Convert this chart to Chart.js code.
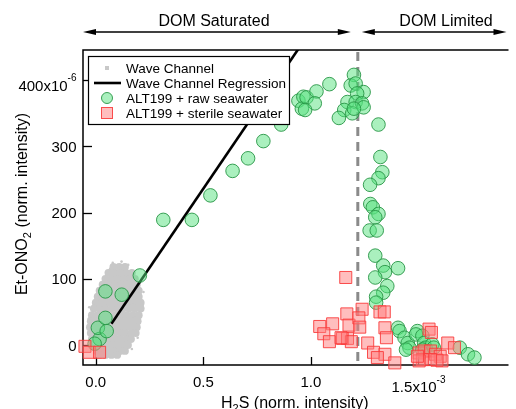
<!DOCTYPE html>
<html><head><meta charset="utf-8">
<script src="https://cdn.jsdelivr.net/npm/chart.js@4.4.1/dist/chart.umd.min.js"></script>
<style>html,body{margin:0;padding:0;background:#fff;}canvas{display:block;}</style>
</head><body>
<canvas id="c" width="516" height="409"></canvas>
<script>
// ---- data (x in units of 1e-3, y in units of 1e-6) ----
const xTickValues = [0, 0.5, 1.0, 1.5];
const xTickLabels = ['0.0', '0.5', '1.0', '1.5x10'];
const xTickExponents = ['', '', '', '-3'];
const yTickValues = [0, 100, 200, 300, 400];
const yTickLabels = ['0', '100', '200', '300', '400x10'];
const yTickExponents = ['', '', '', '', '-6'];
const seriesNames = ['Wave Channel', 'Wave Channel Regression', 'ALT199 + raw seawater', 'ALT199 + sterile seawater'];
const regionNames = ['DOM Saturated', 'DOM Limited'];
const boundaryX = 1.218;

const waveChannelCore = [
 [0.082,118],[0.109,118],[0.136,118],
 [0.059,109],[0.086,109],[0.114,109],[0.141,109],[0.168,109],
 [0.045,100],[0.073,100],[0.1,100],[0.127,100],[0.155,100],[0.182,100],
 [0.032,91],[0.059,91],[0.086,91],[0.114,91],[0.141,91],[0.168,91],[0.191,91],
 [0.018,82],[0.045,82],[0.073,82],[0.1,82],[0.127,82],[0.155,82],[0.182,82],[0.2,82],
 [0.009,73],[0.036,73],[0.064,73],[0.091,73],[0.118,73],[0.145,73],[0.173,73],[0.2,73],
 [0,64],[0.027,64],[0.055,64],[0.082,64],[0.109,64],[0.136,64],[0.164,64],[0.191,64],[0.209,64],
 [-0.009,55],[0.018,55],[0.045,55],[0.073,55],[0.1,55],[0.127,55],[0.155,55],[0.182,55],[0.209,55],
 [-0.018,45],[0.009,45],[0.036,45],[0.064,45],[0.091,45],[0.118,45],[0.145,45],[0.173,45],[0.2,45],
 [-0.023,36],[0.005,36],[0.032,36],[0.059,36],[0.086,36],[0.114,36],[0.141,36],[0.168,36],[0.195,36],
 [-0.027,27],[0,27],[0.027,27],[0.055,27],[0.082,27],[0.109,27],[0.136,27],[0.164,27],[0.191,27],
 [-0.023,18],[0.005,18],[0.032,18],[0.059,18],[0.086,18],[0.114,18],[0.141,18],[0.168,18],[0.186,18],
 [-0.018,9],[0.009,9],[0.036,9],[0.064,9],[0.091,9],[0.118,9],[0.145,9],[0.164,9],
 [-0.014,0],[0.014,0],[0.041,0],[0.068,0],[0.095,0],[0.123,0],[0.15,0],
 [0.005,-9],[0.032,-9],[0.059,-9],[0.086,-9],[0.114,-9],[0.136,-9],
 [0.018,-15],[0.045,-15],[0.073,-15],[0.1,-15]
];
const waveChannelFringe = [
 [0.079,124],[0.151,121],[0.067,115],[-0.03,57],[-0.034,24],[0.218,59],
 [0.195,11],[0.168,-6],[0.012,-19],[0.12,126],[0.222,80],[-0.032,40]
];
const regressionLine = [[0.073,32],[1.0,475]];
const rawSeawater = [
 [0.018,9],[0.010,26],[0.051,21],[0.045,41],[0.045,81],[0.121,76],[-0.005,2],[0.205,105],
 [0.314,189],[0.447,189],[0.533,226],[0.636,263],[0.708,282],[0.779,308],[0.862,333],
 [0.942,369],[0.965,375],[0.958,357],[0.980,374],[1.026,383],[1.018,365],[0.973,355],
 [1.086,394],[1.2,408],[1.185,392],[1.208,395],[1.245,382],[1.215,380],[1.170,367],
 [1.208,367],[1.238,365],[1.245,359],[1.155,355],[1.192,350],[1.2,357],[1.13,343],
 [1.314,333],[1.323,284],[1.332,261],[1.314,252],[1.275,242],[1.276,213],[1.288,208],
 [1.314,198],[1.299,193],[1.273,173],[1.306,173],[1.299,135],[1.336,120],[1.405,116],
 [1.344,110],[1.299,102],[1.355,89],[1.336,79],[1.303,73],[1.303,64],
 [1.405,26],[1.412,21],[1.435,11],[1.45,3],[1.458,-4],[1.442,-7],[1.495,21],[1.488,16],
 [1.518,14],[1.526,3],[1.533,-4],[1.518,-7],[1.564,1],[1.571,-4],[1.692,-4],[1.730,-14],[1.760,-19]
];
const sterileSeawater = [
 [1.162,102],[1.238,54],[1.167,47],[1.101,32],[1.177,30],[1.223,41],[1.227,27],[1.041,28],
 [1.06,17],[1.086,5],[1.147,10],[1.17,10],[1.188,5],[1.264,3],[1.291,-11],[1.344,-14],
 [1.309,-19],[1.321,50],[1.341,50],[1.344,26],[1.351,11],[1.39,-27],[1.549,24],[1.56,19],
 [1.636,3],[1.667,-4],[1.503,-12],[1.526,-9],[1.556,-9],[1.579,-14],[1.601,-17],[1.609,-24],
 [1.586,-23],[1.556,-22],[1.518,-22],[1.503,-24],[1.495,-17],[1.14,11],
 [-0.05,-2],[-0.03,-11],[0.018,-11]
];

// ---- styling ----
const FONT = '"Liberation Sans", Arial, Helvetica, sans-serif';
const GREEN_FILL = 'rgba(85,225,125,0.5)';
const GREEN_EDGE = 'rgba(40,150,70,0.9)';
const RED_FILL = 'rgba(255,125,125,0.5)';
const RED_EDGE = 'rgba(250,60,60,0.9)';
const GRAY = '#c8c8c8';

const toXY = a => a.map(([x, y]) => ({x, y}));

function drawRich(ctx, parts, x, y, align) {
  let total = 0;
  parts.forEach(p => { ctx.font = p.size + 'px ' + FONT; p.w = ctx.measureText(p.t).width; total += p.w; });
  let cx = align === 'right' ? x - total : align === 'center' ? x - total / 2 : x;
  ctx.textAlign = 'left';
  ctx.textBaseline = 'alphabetic';
  parts.forEach(p => { ctx.font = p.size + 'px ' + FONT; ctx.fillText(p.t, cx, y + (p.dy || 0)); cx += p.w; });
}

function arrowLine(ctx, x1, x2, y) {
  const L = 13, H = 3;
  ctx.beginPath(); ctx.moveTo(x1 + L - 1, y); ctx.lineTo(x2 - L + 1, y); ctx.stroke();
  ctx.beginPath(); ctx.moveTo(x1, y); ctx.lineTo(x1 + L, y - H); ctx.lineTo(x1 + L, y + H); ctx.closePath(); ctx.fill();
  ctx.beginPath(); ctx.moveTo(x2, y); ctx.lineTo(x2 - L, y - H); ctx.lineTo(x2 - L, y + H); ctx.closePath(); ctx.fill();
}

const decor = {
  id: 'decor',
  beforeDatasetsDraw(chart) {
    const {ctx, chartArea: a, scales: {x, y}} = chart;
    ctx.save();
    const bx = x.getPixelForValue(boundaryX);
    ctx.strokeStyle = '#8a8a8a'; ctx.lineWidth = 3; ctx.setLineDash([9, 6]);
    ctx.beginPath(); ctx.moveTo(bx, a.top + 2); ctx.lineTo(bx, a.bottom); ctx.stroke();
    ctx.setLineDash([]);
    ctx.strokeStyle = '#000'; ctx.lineWidth = 1.5;
    ctx.beginPath();
    ctx.moveTo(a.right + 2, a.top); ctx.lineTo(a.left, a.top); ctx.lineTo(a.left, a.bottom); ctx.lineTo(a.right + 2, a.bottom);
    ctx.stroke();
    ctx.lineWidth = 1.3;
    xTickValues.forEach(v => { const px = Math.round(x.getPixelForValue(v)) + 0.5; ctx.beginPath(); ctx.moveTo(px, a.bottom); ctx.lineTo(px, a.bottom - 8); ctx.stroke(); });
    yTickValues.forEach(v => { const py = Math.round(y.getPixelForValue(v)) + 0.5; ctx.beginPath(); ctx.moveTo(a.left, py); ctx.lineTo(a.left + 9, py); ctx.stroke(); });
    ctx.fillStyle = '#000';
    xTickValues.forEach((v, i) => {
      const px = x.getPixelForValue(v);
      const exp = xTickExponents[i];
      const base = a.bottom + 22 + (exp ? 5 : 0);
      const parts = [{t: xTickLabels[i], size: 15}];
      if (exp) parts.push({t: exp, size: 10, dy: -9.5});
      drawRich(ctx, parts, px, base, 'center');
    });
    yTickValues.forEach((v, i) => {
      const py = y.getPixelForValue(v);
      const exp = yTickExponents[i];
      const base = py + 5.5 + (exp ? 5 : 0);
      const parts = [{t: yTickLabels[i], size: 15}];
      if (exp) parts.push({t: exp, size: 10, dy: -10});
      drawRich(ctx, parts, a.left - 6.5, base, 'right');
    });
    drawRich(ctx, [{t: 'H', size: 16}, {t: '2', size: 11, dy: 4}, {t: 'S (norm. intensity)', size: 16}], (a.left + a.right) / 2, 408, 'center');
    ctx.save();
    ctx.translate(27, 204); ctx.rotate(-Math.PI / 2);
    drawRich(ctx, [{t: 'Et-ONO', size: 16}, {t: '2', size: 11, dy: 4}, {t: ' (norm. intensity)', size: 16}], 0, 0, 'center');
    ctx.restore();
    ctx.strokeStyle = '#000'; ctx.fillStyle = '#000'; ctx.lineWidth = 1.3;
    arrowLine(ctx, a.left, bx - 7, 32);
    arrowLine(ctx, bx + 4, a.right, 32);
    ctx.font = '16px ' + FONT; ctx.textAlign = 'center'; ctx.textBaseline = 'alphabetic';
    ctx.fillText(regionNames[0], 214, 25.5);
    ctx.fillText(regionNames[1], 446, 25.5);
    ctx.restore();
  },
  afterDatasetsDraw(chart) {
    const {ctx} = chart;
    ctx.save();
    const bx0 = 88, by0 = 56, bw = 201, bh = 68;
    ctx.fillStyle = '#fff'; ctx.fillRect(bx0, by0, bw, bh);
    ctx.strokeStyle = '#000'; ctx.lineWidth = 1.2; ctx.strokeRect(bx0 + 0.5, by0 + 0.5, bw, bh);
    const rows = [68, 83, 98, 113];
    const sx = 107;
    ctx.fillStyle = GRAY; ctx.fillRect(sx - 2, rows[0] - 2, 4, 4);
    ctx.strokeStyle = '#000'; ctx.lineWidth = 2.6;
    ctx.beginPath(); ctx.moveTo(94, rows[1]); ctx.lineTo(121, rows[1]); ctx.stroke();
    ctx.fillStyle = GREEN_FILL; ctx.strokeStyle = GREEN_EDGE; ctx.lineWidth = 1;
    ctx.beginPath(); ctx.arc(sx, rows[2], 5.5, 0, Math.PI * 2); ctx.fill(); ctx.stroke();
    ctx.fillStyle = RED_FILL; ctx.strokeStyle = RED_EDGE;
    ctx.fillRect(sx - 5.5, rows[3] - 5.5, 11, 11); ctx.strokeRect(sx - 5.5, rows[3] - 5.5, 11, 11);
    ctx.fillStyle = '#000'; ctx.font = '13.5px ' + FONT; ctx.textAlign = 'left'; ctx.textBaseline = 'alphabetic';
    seriesNames.forEach((n, i) => ctx.fillText(n, 126, rows[i] + 5));
    ctx.restore();
  }
};

const wavePoints = toXY(waveChannelCore.concat(waveChannelFringe));
const coreCount = waveChannelCore.length;

new Chart(document.getElementById('c'), {
  type: 'scatter',
  data: {
    datasets: [
      { label: seriesNames[3], data: toXY(sterileSeawater), pointStyle: 'rect', pointRadius: 8.5,
        backgroundColor: RED_FILL, borderColor: RED_EDGE, borderWidth: 1, clip: false, order: 0 },
      { label: seriesNames[2], data: toXY(rawSeawater), pointStyle: 'circle', pointRadius: 6.8,
        backgroundColor: GREEN_FILL, borderColor: GREEN_EDGE, borderWidth: 1, clip: false, order: 1 },
      { label: seriesNames[1], data: toXY(regressionLine), showLine: true, pointRadius: 0,
        borderColor: '#000', borderWidth: 2.6, fill: false, order: 2 },
      { label: seriesNames[0], data: wavePoints,
        pointRadius: ctx => ctx.dataIndex < coreCount ? 3.9 : 1.3,
        backgroundColor: GRAY, borderWidth: 0, order: 3 }
    ]
  },
  options: {
    responsive: false, animation: false, devicePixelRatio: 1, events: [],
    layout: {padding: {left: 83, top: 50, right: 0, bottom: 44}},
    scales: {
      x: {type: 'linear', display: false, min: -0.0591, max: 1.909},
      y: {type: 'linear', display: false, min: -30.2, max: 445.6}
    },
    plugins: {legend: {display: false}, tooltip: {enabled: false}}
  },
  plugins: [decor]
});
</script>
</body></html>
